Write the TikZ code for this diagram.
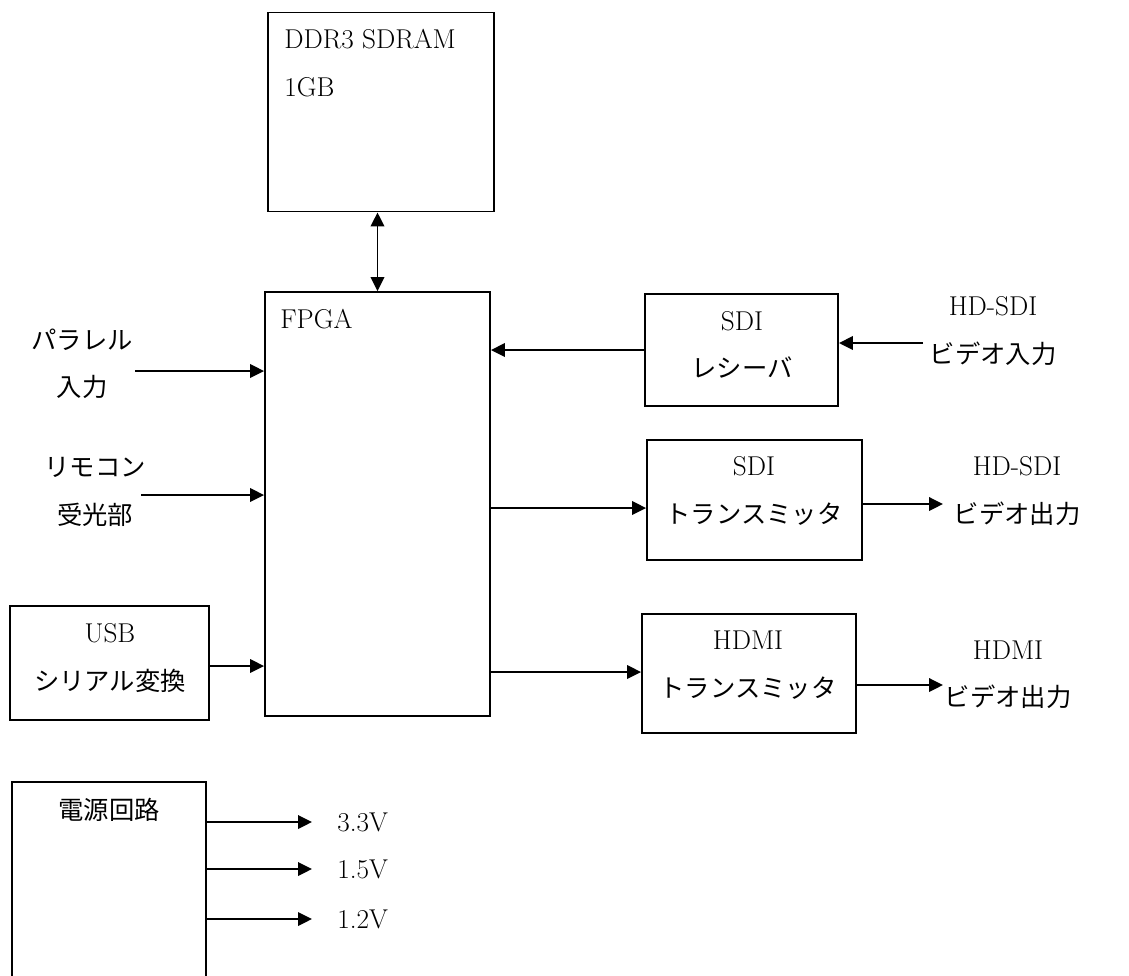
\documentclass[tikz,border=0pt]{standalone}
\usepackage{fontspec}
\newfontfamily\jp[Scale=0.93]{Noto Sans CJK JP}
\usetikzlibrary{arrows.meta, positioning}

\begin{document}
\begin{tikzpicture}[x=0.02cm, y=-0.02cm,
  font=\fontsize{15.5}{27}\selectfont,
  block/.style={draw, line width=1.1pt, inner sep=0pt},
  txt/.style={align=center, inner sep=0pt},
  arr/.style={-{Triangle[length=0.28cm, width=0.27cm]}, line width=1.1pt},
  darr/.style={{Triangle[length=0.28cm, width=0.27cm]}-{Triangle[length=0.28cm, width=0.27cm]}, line width=1.1pt}]
  \useasboundingbox (0,0) rectangle (1129,975);

  % Blocks
  \node[block, minimum width=4.52cm, minimum height=3.98cm] (ddr)  at (381,112)   {};
  \node[block, minimum width=4.5cm,  minimum height=8.48cm] (fpga) at (377.5,504) {};
  \node[block, minimum width=3.98cm, minimum height=2.28cm] (usb)  at (109.5,663) {};
  \node[block, minimum width=3.86cm, minimum height=2.24cm] (rx)   at (741.5,350) {};
  \node[block, minimum width=4.3cm,  minimum height=2.4cm]  (tx)   at (754.5,500) {};
  \node[block, minimum width=4.28cm, minimum height=2.38cm] (hdmi) at (749,673.5) {};
  \node[block, minimum width=3.88cm, minimum height=4.36cm] (pwr)  at (109,891)   {};

  % Block texts
  \node[txt, anchor=north west, align=left] (ddrt) at (284,29) {DDR3 SDRAM\\1GB};
  \node[txt, anchor=north west] (fpgat) at (280,309) {FPGA};
  \node[txt] (usbt)  at (110,658)   {USB\\{\jp シリアル変換}};
  \node[txt] (rxt)   at (742,345)   {SDI\\{\jp レシーバ}};
  \node[txt] (txt)   at (754,491)   {SDI\\{\jp トランスミッタ}};
  \node[txt] (hdmit) at (748,665)   {HDMI\\{\jp トランスミッタ}};
  \node[txt] (pwrt)  at (109,810)   {\jp 電源回路};

  % Outside labels
  \node[txt] (par)    at (82,364)   {\jp パラレル\\\jp 入力};
  \node[txt] (rem)    at (95,492)   {\jp リモコン\\\jp 受光部};
  \node[txt] (sdiin)  at (993,331)  {HD-SDI\\{\jp ビデオ入力}};
  \node[txt] (sdiout) at (1017,491) {HD-SDI\\{\jp ビデオ出力}};
  \node[txt] (hdout)  at (1008,675) {HDMI\\{\jp ビデオ出力}};
  \node[txt, anchor=west] (v33) at (337,822) {3.3V};
  \node[txt, anchor=west] (v15) at (337,869) {1.5V};
  \node[txt, anchor=west] (v12) at (337,919) {1.2V};

  % Free ends
  \coordinate (parin)  at (135,371);
  \coordinate (remin)  at (141,495);
  \coordinate (sdiend) at (923,343);
  \coordinate (txin)   at (490,508);
  \coordinate (txend)  at (943,504);
  \coordinate (hdend)  at (943,685);

  % Connectors
  \draw[darr] (fpga.north |- ddr.south) -- (fpga.north);
  \draw[arr] (parin) -- (parin -| fpga.west);
  \draw[arr] (remin) -- (remin -| fpga.west);
  \draw[arr] (usb.east |- 0,666) -- (fpga.west |- 0,666);
  \draw[arr] (rx.west) -- (rx.west -| fpga.east);
  \draw[arr] (sdiend) -- (sdiend -| rx.east);
  \draw[arr] (txin) -- (txin -| tx.west);
  \draw[arr] (txend -| tx.east) -- (txend);
  \draw[arr] (fpga.east |- 0,672) -- (hdmi.west |- 0,672);
  \draw[arr] (hdend -| hdmi.east) -- (hdend);
  \draw[arr] (pwr.east |- v33) -- ([xshift=-0.5cm]v33.west);
  \draw[arr] (pwr.east |- v15) -- ([xshift=-0.5cm]v15.west);
  \draw[arr] (pwr.east |- v12) -- ([xshift=-0.5cm]v12.west);
\end{tikzpicture}
\end{document}
